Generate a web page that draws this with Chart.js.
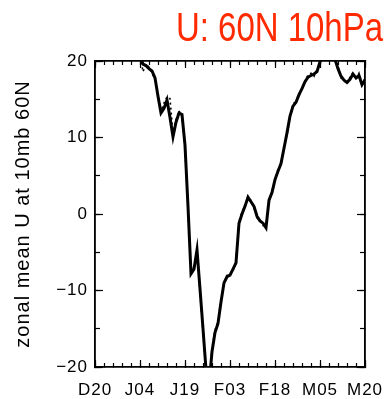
<!DOCTYPE html>
<html><head><meta charset="utf-8">
<script src="https://cdn.jsdelivr.net/npm/chart.js@4.4.1/dist/chart.umd.min.js"></script>
<style>html,body{margin:0;padding:0;background:#fff;}canvas{display:block;}</style>
</head><body>
<canvas id="c" width="387" height="399"></canvas>
<script>
const titleText = 'U: 60N 10hPa';
const yAxisTitle = 'zonal mean U at 10mb 60N';
const dateLabels = ['D20','J04','J19','F03','F18','M05','M20'];
const yTickValues = [-20,-10,0,10,20];
const yTickLabels = ['\u221220','\u221210','0','10','20'];

// daily zonal-mean U (m/s), day 0 = Dec 20 ... day 90 = Mar 20
const solidU = [27,28,29,30,31,31,30,29,28,27,26,25,24,23,22,
  20.6,19.6,19.4,19.0,18.7,17.8,15.4,13.2,13.8,14.9,12.6,10.1,12.0,13.2,13.0,
  9.0,1.0,-7.8,-7.2,-4.7,-9.8,-15.0,-20.3,-22.5,-18.0,
  -15.5,-14.3,-11.5,-9.0,-8.2,-8.0,-7.2,-6.4,-1.2,0.0,
  1.0,2.2,1.6,1.0,-0.3,-0.9,-1.2,-1.8,1.8,2.8,
  4.5,5.6,6.6,8.6,10.6,12.8,14.1,14.6,15.6,16.4,
  17.3,17.9,18.1,18.3,18.6,19.9,21.0,22.0,22.5,22.0,
  20.2,19.0,18.0,17.5,17.2,17.6,18.3,17.8,18.1,16.9,17.5];
const dashedU = [27.5,28.2,29.1,29.8,30.6,31.2,30.4,29.3,28.5,27.2,26.3,25.4,24.1,23.3,22.2,
  20.8,18.6,19.6,19.2,18.5,17.5,15.8,13.5,14.5,15.3,15.1,10.5,12.3,13.5,12.8,
  8.6,0.6,-7.5,-7.0,-5.0,-10.2,-15.3,-20.6,-22.3,-17.6,
  -15.2,-14.0,-11.2,-9.3,-8.0,-7.8,-7.4,-6.2,-1.0,0.3,
  1.2,2.0,1.8,0.8,-0.5,-0.7,-1.5,-1.6,1.5,3.0,
  4.3,5.9,6.4,8.9,10.4,12.6,14.3,14.9,15.4,16.7,
  17.1,18.2,18.4,18.0,18.9,19.7,21.3,22.2,22.8,21.7,
  20.5,19.3,17.8,17.6,17.0,17.9,18.5,17.6,18.4,17.1,17.7];

const days = solidU.map((_, i) => i);
const toPts = arr => arr.map((v, i) => ({x: days[i], y: v}));

const tickFont = {family: 'Liberation Sans, Arial, sans-serif', size: 17};
function axisBase(pos, isX, step, tl, weight, size, showLabels, showBorder) {
  return {
    type: 'linear', position: pos, weight: weight,
    min: isX ? 0 : -20, max: isX ? 90 : 20,
    grid: {display: tl !== 0, drawOnChartArea: false, drawTicks: tl !== 0, tickLength: tl, tickColor: '#000', tickWidth: 1.2},
    border: {display: showBorder, color: '#000', width: 1.6},
    ticks: {display: showLabels, stepSize: step, autoSkip: false, maxRotation: 0, padding: 0, font: tickFont, color: '#000'},
    afterFit: s => { if (isX) s.height = size; else s.width = size; }
  };
}
// bottom: major ticks (at frame), minor ticks + spacer, then labels
const sxMajor = axisBase('bottom', true, 15, -7, -1, 0, false, true);
const sxMinor = axisBase('bottom', true, 3, -4, 0, 13, false, true);
const sx = axisBase('bottom', true, 15, 0, 1, 19, true, false);
sx.ticks.callback = v => { const k = Math.round(v / 15); return (v % 15 === 0 && dateLabels[k]) ? dateLabels[k] : ''; };

const sy = axisBase('left', false, 10, -8, 1, 95, true, true);
sy.ticks.padding = 15;
sy.ticks.callback = v => { const k = yTickValues.indexOf(v); return k >= 0 ? yTickLabels[k] : ''; };
sy.title = {display: true, text: yAxisTitle, color: '#000', font: {family: 'Liberation Sans, Arial, sans-serif', size: 20, lineHeight: 1.2}, padding: {top: 11, bottom: 0}};

const spacingPlugin = {
  id: 'spacing',
  beforeDraw(chart) { chart.ctx.letterSpacing = '1px'; }
};
const condensedTitle = {
  id: 'condensedTitle',
  afterDraw(chart, args, opts) {
    const ctx = chart.ctx;
    ctx.save();
    ctx.letterSpacing = '0px';
    ctx.fillStyle = opts.color;
    ctx.font = opts.size + 'px ' + opts.family;
    ctx.textAlign = 'right';
    ctx.textBaseline = 'alphabetic';
    ctx.translate(opts.right, opts.baseline);
    ctx.scale(opts.squeeze, 1);
    ctx.fillText(opts.text, 0, 0);
    ctx.restore();
  }
};

new Chart(document.getElementById('c'), {
  type: 'line',
  data: {datasets: [
    {label: 'U', data: toPts(solidU), borderColor: '#000', borderWidth: 3, pointRadius: 0, tension: 0, clip: 0, xAxisID: 'x', yAxisID: 'y'},
    {label: 'U2', data: toPts(dashedU), borderColor: '#000', borderWidth: 1.6, borderDash: [2, 3], pointRadius: 0, tension: 0, clip: 0, xAxisID: 'x', yAxisID: 'y'}
  ]},
  plugins: [spacingPlugin, condensedTitle],
  options: {
    responsive: false, animation: false, devicePixelRatio: 1,
    layout: {padding: {left: 0, right: 4, top: 61, bottom: 0}},
    plugins: {
      legend: {display: false}, tooltip: {enabled: false}, title: {display: false},
      condensedTitle: {text: titleText, color: '#ff2a00', size: 40, family: 'Liberation Sans, Arial, sans-serif', right: 383, baseline: 41, squeeze: 0.824}
    },
    scales: {
      x: sx,
      xM: sxMajor,
      xm: sxMinor,
      xt: axisBase('top', true, 15, -7, 0, 0, false, true),
      xtm: axisBase('top', true, 3, -4, 0, 0, false, true),
      y: sy,
      ym: axisBase('left', false, 5, -5, 0, 0, false, true),
      yr: axisBase('right', false, 10, -8, 1, 18, false, true),
      yrm: axisBase('right', false, 5, -5, 0, 0, false, true)
    }
  }
});
</script>
</body></html>
